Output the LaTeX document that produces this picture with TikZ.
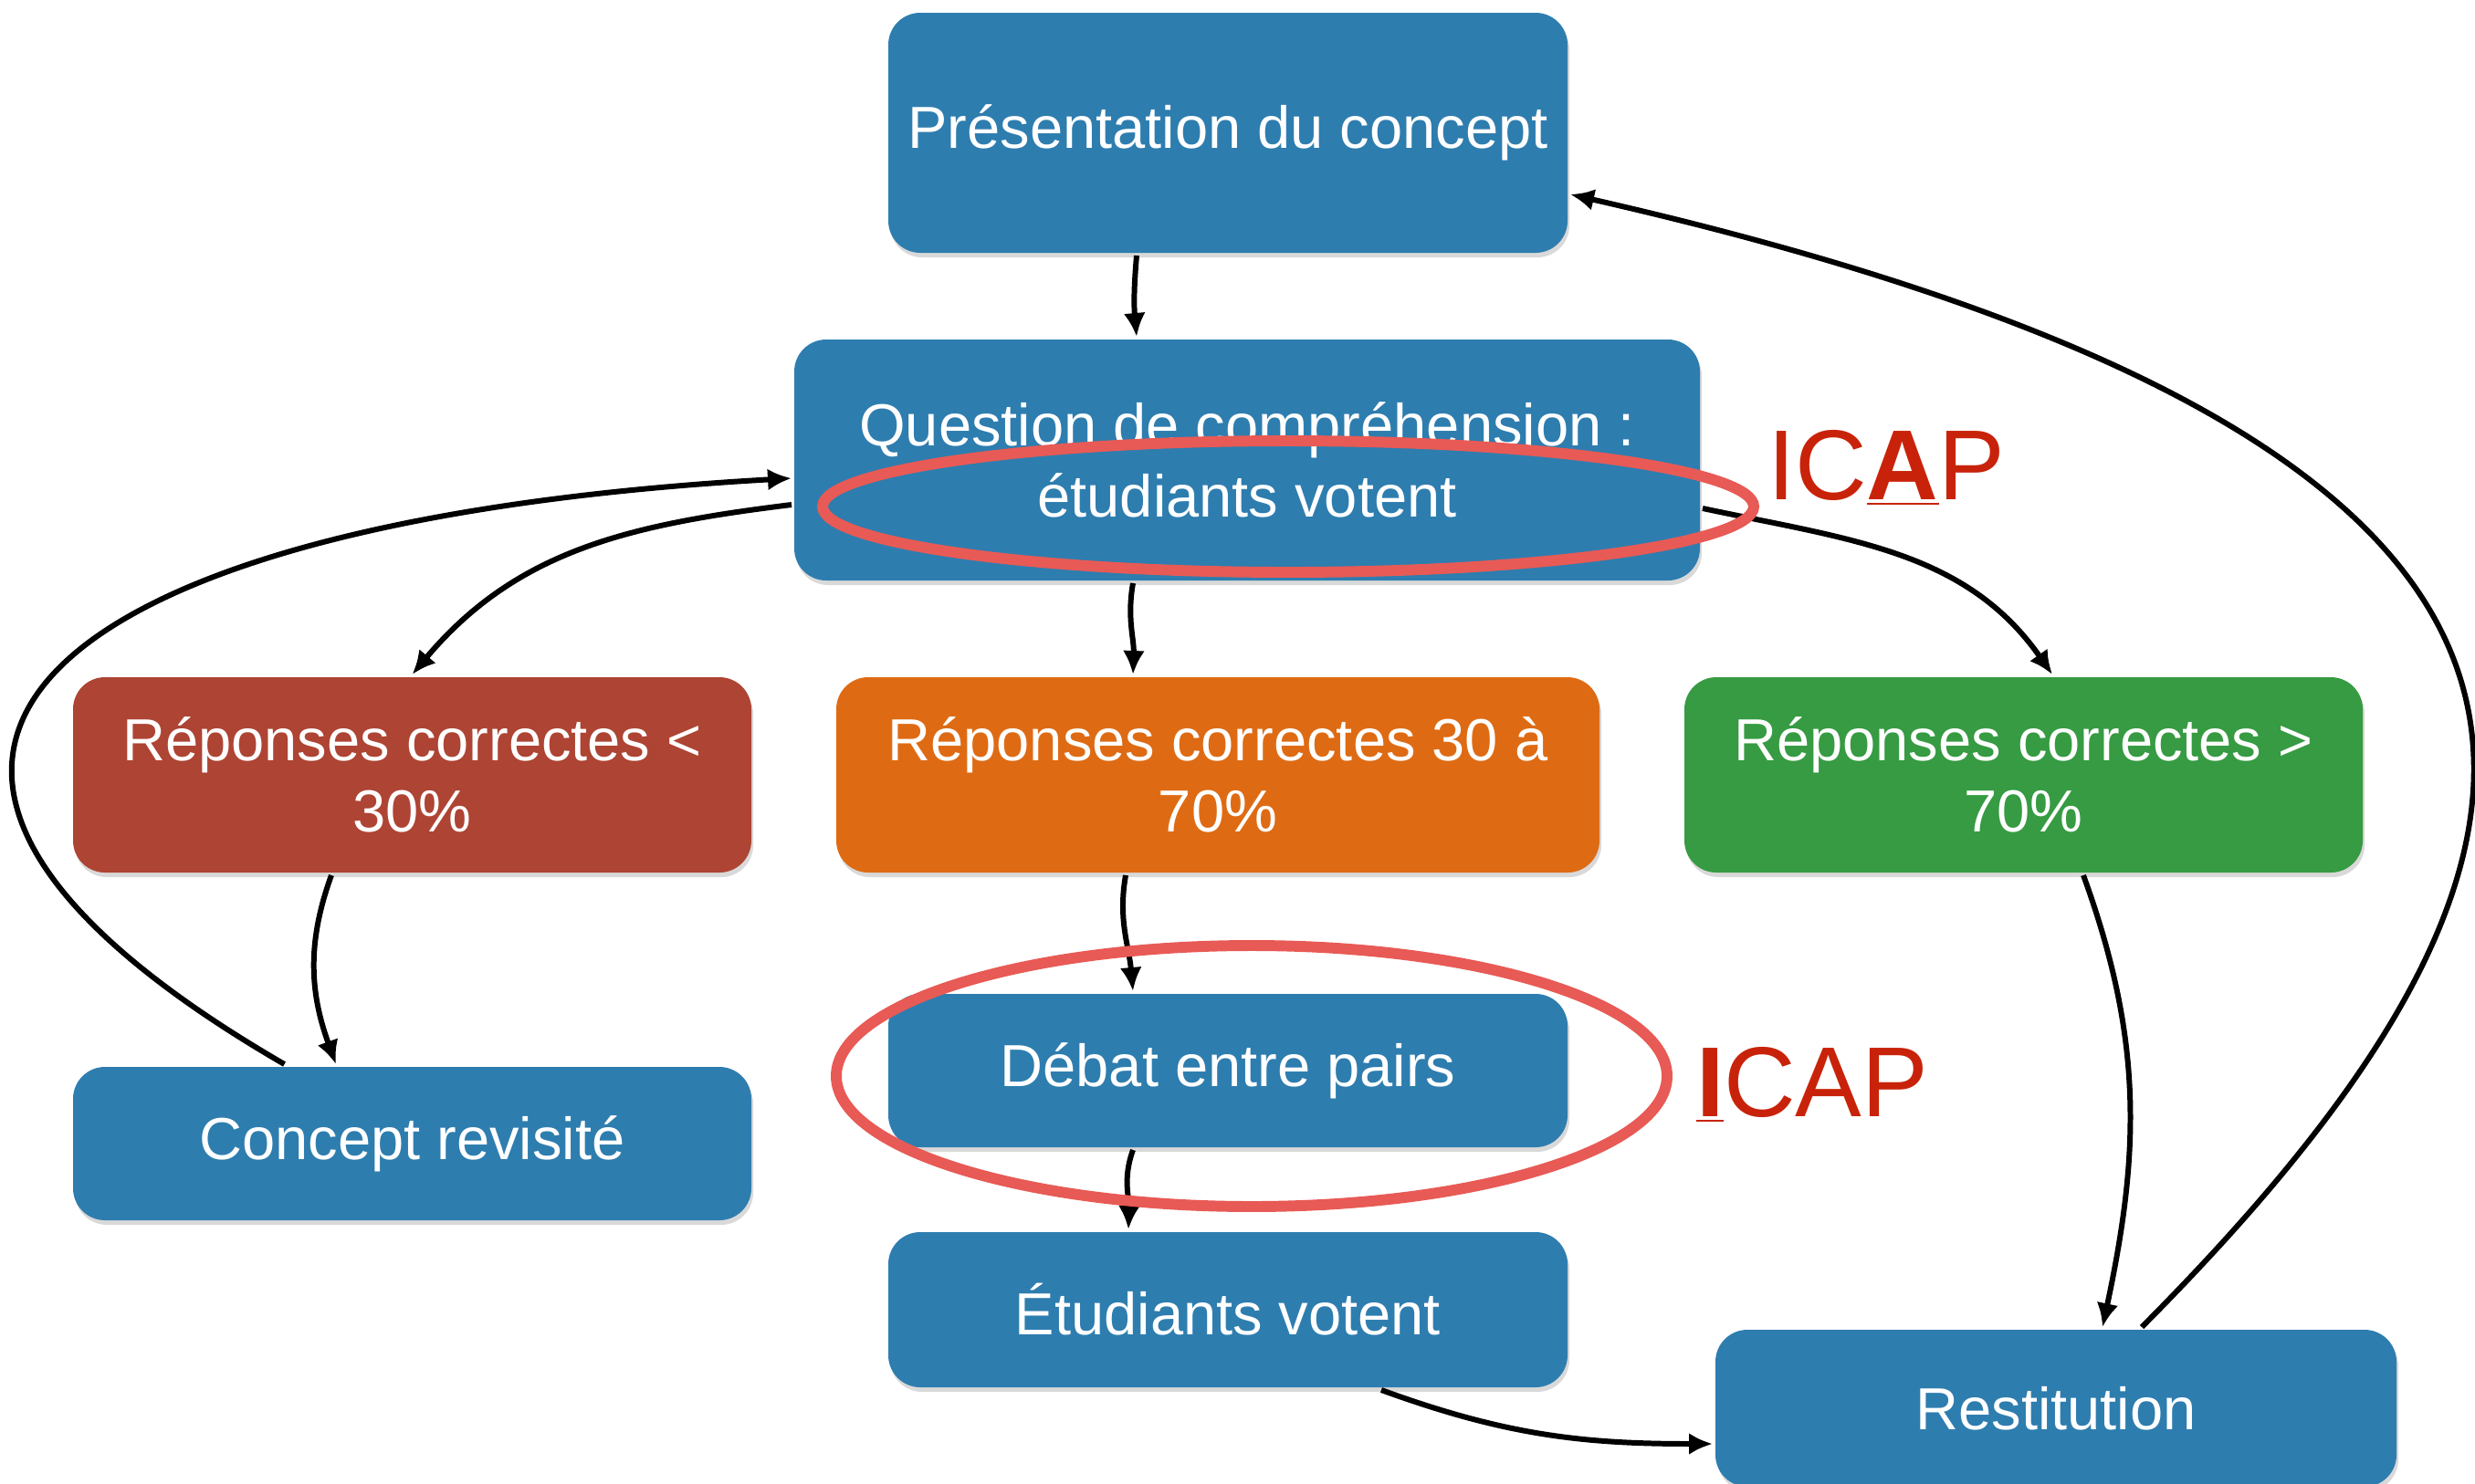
\documentclass[tikz,border=0pt]{standalone}
\usepackage{fontspec}
\setmainfont{Liberation Sans}
\usepackage{tikz}
\usetikzlibrary{
        arrows.meta,
        positioning,
        shadows,
        shapes.geometric
    }
\definecolor{boxblue}{RGB}{46,125,175}
\definecolor{boxred}{RGB}{174,68,51}
\definecolor{boxorange}{RGB}{222,107,20}
\definecolor{boxgreen}{RGB}{54,155,66}
\definecolor{ringred}{RGB}{232,90,85}
\definecolor{icapred}{RGB}{200,35,10}
\tikzset{>={Latex[length=0.26cm,width=0.24cm]},auto}
\tikzset{box/.style={rectangle,rounded corners=0.35cm,text=white,align=center,
        font=\fontsize{18.5}{22.2}\selectfont,
        drop shadow={shadow xshift=0.02cm,shadow yshift=-0.05cm,opacity=0.3}}}

\begin{document}
\begin{tikzpicture}[line width=1.7pt]
                    \tikzset{ring/.style={ellipse,draw=ringred,line width=3.4pt,inner sep=0pt},
                             icap/.style={text=icapred,inner sep=0pt,font=\fontsize{31}{31}\selectfont}}
                    \useasboundingbox (0,0) rectangle (27.11,-16.25);

                        \node[box,fill=boxblue,minimum width=7.44cm,minimum height=2.63cm] (p1) at (13.45,-1.455) {Présentation du concept};
                        \node[box,fill=boxblue,minimum width=9.92cm,minimum height=2.64cm,node distance=3.585cm,xshift=0.21cm] (q1) [below of=p1] {Question de compréhension :\\étudiants votent};
                        \node[box,fill=boxorange,minimum width=8.36cm,minimum height=2.14cm,node distance=3.45cm,xshift=-0.32cm] (r2) [below of=q1] {Réponses correctes 30 à\\70\%};
                        \node[box,fill=boxred,minimum width=7.43cm,minimum height=2.14cm,node distance=8.825cm] (r1) [left of=r2] {Réponses correctes <\\30\%};
                        \node[box,fill=boxgreen,minimum width=7.43cm,minimum height=2.14cm,node distance=8.825cm] (r3) [right of=r2] {Réponses correctes >\\70\%};
                        \node[box,fill=boxblue,minimum width=7.43cm,minimum height=1.68cm,node distance=4.04cm] (c1) [below of=r1] {Concept revisité};
                        \node[box,fill=boxblue,minimum width=7.44cm,minimum height=1.68cm,node distance=3.24cm,xshift=0.11cm] (d1) [below of=r2] {Débat entre pairs};
                        \node[box,fill=boxblue,minimum width=7.44cm,minimum height=1.70cm,node distance=2.62cm] (e1) [below of=d1] {Étudiants votent};
                        \node[box,fill=boxblue,minimum width=7.46cm,minimum height=1.72cm,node distance=9.07cm,yshift=-1.08cm] (s1) [right of=e1] {Restitution};

                    \path[->]
                            ([xshift=-1cm]p1.south) edge[out=-95,in=95] ([xshift=-1.21cm]q1.north)
                            ([xshift=-1.25cm]q1.south) edge[out=-100,in=88] ([xshift=-0.93cm]r2.north)
                            ([yshift=-0.49cm]q1.west) edge[out=187,in=50] (r1.north)
                            ([yshift=-0.53cm]q1.east) edge[out=-12,in=125] ([xshift=0.315cm]r3.north)
                            ([xshift=-0.885cm]r1.south) edge[out=250,in=110] ([xshift=-0.835cm]c1.north)
                            ([xshift=-1.01cm]r2.south) edge[out=-100,in=95] ([xshift=-1.04cm]d1.north)
                            ([xshift=-1.04cm]d1.south) edge[out=-110,in=88] ([xshift=-1.09cm]e1.north)
                            ([xshift=1.68cm]e1.south) edge[out=-20,in=180] ([yshift=-0.39cm]s1.west)
                            ([xshift=0.655cm]r3.south) edge[out=-70,in=78] ([xshift=0.51cm]s1.north)
                            ;
                    \draw[->] ([xshift=-1.4cm]c1.north) .. controls +(-5.85,3.39) and +(-8.15,-0.46) .. ([yshift=-0.2cm]q1.west);
                    \draw[->] ([xshift=0.94cm]s1.north) .. controls +(5.04,5.07) and +(12.6,-2.87) .. ([yshift=-0.675cm]p1.east);

                        \node[ring,minimum width=10.2cm,minimum height=1.44cm] (h1) at (14.11,-5.55) {};
                        \node[ring,minimum width=9.1cm,minimum height=2.86cm] (h2) at (13.71,-11.79) {};
                        \node[icap,anchor=base west] (i1) at (19.33,-5.47) {IC\underline{\textbf{A}}P};
                        \node[icap,anchor=base west] (i2) at (18.55,-12.23) {\underline{\textbf{I}}CAP};
            \end{tikzpicture}
\end{document}
